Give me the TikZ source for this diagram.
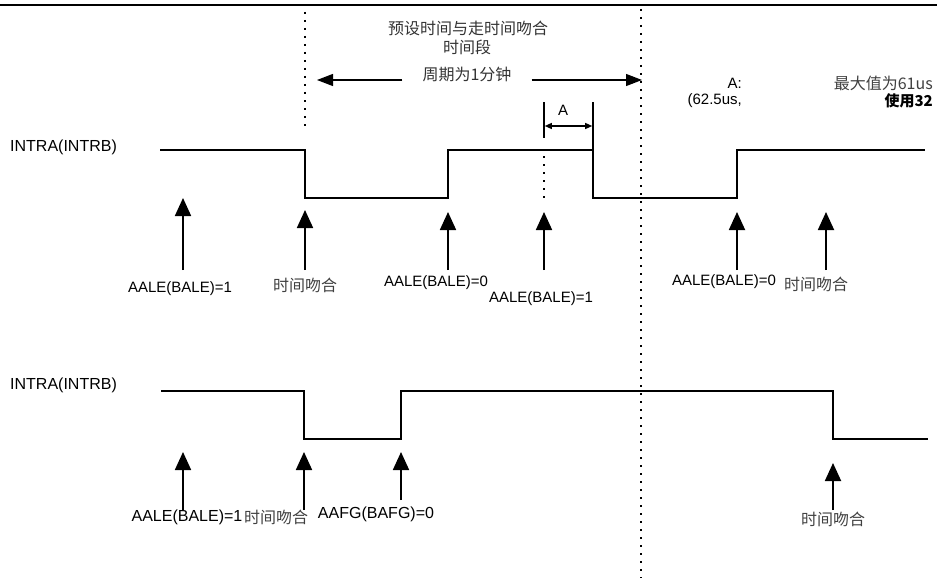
\documentclass[tikz,border=0pt]{standalone}
\usepackage{fontspec}
\setmainfont{Liberation Sans}
\newfontfamily\cjk{Noto Sans CJK SC}
\usetikzlibrary{arrows.meta}
\tikzset{
  sigline/.style={line width=1.8pt,line join=miter},
  trig/.style={line width=1.8pt,-{Triangle[width=16pt,length=18pt]}},
  vdots/.style={line width=1.6pt,dash pattern=on 1.6pt off 6.4pt},
  lbl/.style={font=\fontsize{15}{17}\selectfont,inner sep=0pt},
  cn/.style={font=\cjk\fontsize{16}{18}\selectfont,inner sep=0pt,text=black!75},
  periodarrow/.style={line width=1.2pt,-{Triangle[width=12pt,length=16pt]}},
  widthmark/.style={line width=1.2pt,{Triangle[width=6pt,length=7pt]}-{Triangle[width=6pt,length=7pt]}}
}

\begin{document}
\begin{tikzpicture}[x=1pt,y=-1pt]
\useasboundingbox (0,0) rectangle (937,578);

% Top rule
\draw[line width=2.5pt] (0,5) -- (937,5);

% Period markers
\coordinate (leftTop) at (305,12);
\coordinate (leftBot) at (305,128);
\coordinate (rightTop) at (641,9);
\coordinate (rightBot) at (641,578);
\draw[vdots] (leftTop) -- (leftBot);
\draw[vdots] (rightTop) -- (rightBot);

% Period caption and arrows
\node[cn,text=black!80] (title1) at (468,28) {预设时间与走时间吻合};
\node[cn,text=black!80] (title2) at (467,47) {时间段};
\node[cn,text=black!80,inner xsep=20pt] (period) at (467,74) {周期为1分钟};
\coordinate (pL) at (317,80);
\coordinate (pR) at (642,80);
\draw[periodarrow] (period.west |- pL) -- (pL);
\draw[periodarrow] (period.east |- pR) -- (pR);

% Width A
\coordinate (aL1) at (544,102);
\coordinate (aL2) at (544,138);
\coordinate (aR1) at (593,102);
\coordinate (aR2) at (593,150);
\draw[line width=1.5pt] (aL1) -- (aL2);
\draw[line width=1.5pt] (aR1) -- (aR2);
\draw[widthmark] (544.8,126) -- (592.2,126);
\node[lbl] (aname) at (563,110) {A};
\draw[vdots] (544,156) -- (544,198);

% Notes on the right
\node[lbl,anchor=east] (noteA) at (742,83) {A:};
\node[lbl,anchor=east] (noteB) at (742,101) {(62.5us,};
\node[cn,anchor=east] (noteC) at (933,83) {最大值为61us};
\node[lbl,anchor=east,font=\cjk\bfseries\fontsize{15}{17}\selectfont] (noteD) at (933,101) {使用32};

% First signal
\node[lbl,font=\fontsize{16}{18}\selectfont,anchor=west] (intraA) at (10,147) {INTRA(INTRB)};
\draw[sigline] (160,150) -- (305,150) -- (305,198) -- (448,198) -- (448,150)
  -- (593,150) -- (593,198) -- (737,198) -- (737,150) -- (925,150);

% First row triggers
\foreach \x/\tip in {183/198,305/210,448/212,544/212,737/212,826/212}
{
  \draw[trig] (\x,270) -- (\x,\tip);
}
\node[lbl] (aaleA) at (180,289) {AALE(BALE)=1};
\node[cn] (matchA) at (305,285) {时间吻合};
\node[lbl] (aaleB) at (436,283) {AALE(BALE)=0};
\node[lbl] (aaleC) at (541,299) {AALE(BALE)=1};
\node[lbl] (aaleD) at (724,282) {AALE(BALE)=0};
\node[cn] (matchB) at (816,284) {时间吻合};

% Second signal
\node[lbl,font=\fontsize{16}{18}\selectfont,anchor=west] (intraB) at (10,385) {INTRA(INTRB)};
\draw[sigline] (161,391) -- (304,391) -- (304,439) -- (401,439) -- (401,391)
  -- (833,391) -- (833,439) -- (928,439);

% Second row triggers
\foreach \x/\tip/\tail in {183/452/510,304/452/510,401/452/500,833/463/510}
{
  \draw[trig] (\x,\tail) -- (\x,\tip);
}
\node[lbl,font=\fontsize{16}{18}\selectfont] (aaleE) at (187,517) {AALE(BALE)=1};
\node[cn] (matchC) at (276,517) {时间吻合};
\node[lbl,font=\fontsize{16}{18}\selectfont] (aafg) at (376,514) {AAFG(BAFG)=0};
\node[cn] (matchD) at (833,519) {时间吻合};

\end{tikzpicture}
\end{document}
